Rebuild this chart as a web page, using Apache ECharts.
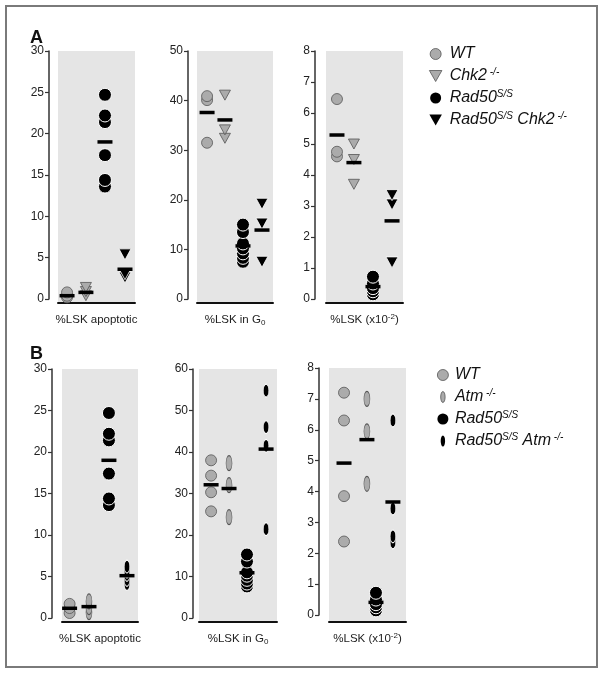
<!DOCTYPE html>
<html><head><meta charset="utf-8">
<script src="https://cdn.jsdelivr.net/npm/echarts@6/dist/echarts.min.js"></script>
<style>html,body{margin:0;padding:0;background:#fff}#c{width:604px;height:674px}</style>
</head><body><div id="c"></div>
<script>
// ---------------- data ----------------
const groupsA = ['WT', 'Chk2', 'Rad50', 'Rad50Chk2'];
const groupsB = ['WT', 'Atm', 'Rad50', 'Rad50Atm'];
const measureNames = ['%LSK apoptotic', '%LSK in G0', '%LSK (x10-2)'];
const yMax = [30, 50, 8, 30, 60, 8];
const yInterval = [5, 10, 1, 5, 10, 1];

// Panel A – %LSK apoptotic
const A_apop_WT = [0.2, 0.4, 0.8];
const A_apop_Chk2 = [0.4, 0.9, 1.4];
const A_apop_Rad50 = [13.6, 14.4, 17.4, 21.4, 22.2, 24.7];
const A_apop_Rad50Chk2 = [2.6, 3.0, 5.4];
const A_apop_mean = [0.4, 0.8, 19.0, 3.6];
// Panel A – %LSK in G0
const A_g0_WT = [31.5, 40.1, 40.9];
const A_g0_Chk2 = [32.4, 34.1, 41.1];
const A_g0_Rad50 = [7.5, 8.3, 9.2, 10.2, 11.2, 13.5, 15.0];
const A_g0_Rad50Chk2 = [7.5, 15.2, 19.2];
const A_g0_mean = [37.6, 36.1, 10.7, 13.9];
// Panel A – %LSK (x10^-2)
const A_lsk_WT = [4.6, 4.75, 6.45];
const A_lsk_Chk2 = [3.7, 4.5, 5.0];
const A_lsk_Rad50 = [0.15, 0.25, 0.35, 0.5, 0.72];
const A_lsk_Rad50Chk2 = [1.18, 3.05, 3.35];
const A_lsk_mean = [5.29, 4.4, 0.4, 2.52];

// Panel B – %LSK apoptotic
const B_apop_WT = [0.6, 1.2, 1.7];
const B_apop_Atm = [0.7, 1.3, 2.0];
const B_apop_Rad50 = [13.6, 14.4, 17.4, 21.4, 22.2, 24.7];
const B_apop_Rad50Atm = [4.1, 4.6, 5.2, 5.6, 6.2];
const B_apop_mean = [1.17, 1.37, 19.0, 5.1];
// Panel B – %LSK in G0
const B_g0_WT = [25.7, 30.3, 34.3, 38.0];
const B_g0_Atm = [24.3, 32.0, 37.3];
const B_g0_Rad50 = [7.6, 8.3, 9.2, 10.2, 11.0, 13.6, 15.3];
const B_g0_Rad50Atm = [21.4, 41.5, 46.0, 54.8];
const B_g0_mean = [32.1, 31.2, 10.9, 40.7];
// Panel B – %LSK (x10^-2)
const B_lsk_WT = [2.38, 3.85, 6.3, 7.2];
const B_lsk_Atm = [4.25, 5.95, 7.0];
const B_lsk_Rad50 = [0.15, 0.25, 0.35, 0.5, 0.72];
const B_lsk_Rad50Atm = [2.35, 2.55, 3.45, 6.3];
const B_lsk_mean = [4.92, 5.68, 0.41, 3.66];

// ---------------- layout & styles ----------------
const panels = [
  {groups: groupsA, vals: [A_apop_WT, A_apop_Chk2, A_apop_Rad50, A_apop_Rad50Chk2], mean: A_apop_mean, m: 0},
  {groups: groupsA, vals: [A_g0_WT, A_g0_Chk2, A_g0_Rad50, A_g0_Rad50Chk2], mean: A_g0_mean, m: 1},
  {groups: groupsA, vals: [A_lsk_WT, A_lsk_Chk2, A_lsk_Rad50, A_lsk_Rad50Chk2], mean: A_lsk_mean, m: 2},
  {groups: groupsB, vals: [B_apop_WT, B_apop_Atm, B_apop_Rad50, B_apop_Rad50Atm], mean: B_apop_mean, m: 0},
  {groups: groupsB, vals: [B_g0_WT, B_g0_Atm, B_g0_Rad50, B_g0_Rad50Atm], mean: B_g0_mean, m: 1},
  {groups: groupsB, vals: [B_lsk_WT, B_lsk_Atm, B_lsk_Rad50, B_lsk_Rad50Atm], mean: B_lsk_mean, m: 2}
];
const layout = [
  {axisX: 49, left: 58, width: 77, top: 51, h: 248, bgH: 252, xs: [0.47, 1.45, 2.44, 3.48]},
  {axisX: 188, left: 197, width: 76, top: 51, h: 248, bgH: 252, xs: [0.53, 1.47, 2.42, 3.42]},
  {axisX: 315, left: 326, width: 77, top: 51, h: 248, bgH: 252, xs: [0.57, 1.45, 2.44, 3.43]},
  {axisX: 52, left: 62, width: 76, top: 369, h: 249, bgH: 253, xs: [0.4, 1.42, 2.47, 3.42]},
  {axisX: 193, left: 199, width: 78, top: 369, h: 249, bgH: 253, xs: [0.62, 1.54, 2.46, 3.44]},
  {axisX: 319, left: 329, width: 77, top: 368, h: 247, bgH: 254, xs: [0.78, 1.97, 2.44, 3.32]}
];
const FONT = '"Liberation Sans", Arial, Helvetica, sans-serif';
const TRI = 'path://M0,0 L100,0 L50,88 Z';
const ELL = 'path://M20,0 A20,50 0 1,1 20,100 A20,50 0 1,1 20,0 Z';
const GREY = '#ababab';
const styles = {
  WT: {symbol: 'circle', size: 11, color: GREY, border: '#555', bw: 0.8},
  Chk2: {symbol: TRI, size: [11, 10], color: GREY, border: '#555', bw: 0.8},
  Rad50: {symbol: 'circle', size: 13, color: '#000', border: '#fff', bw: 1},
  Rad50Chk2: {symbol: TRI, size: [12, 11], color: '#000', border: '#fff', bw: 0.8},
  Atm: {symbol: ELL, size: [6, 15], color: GREY, border: '#555', bw: 0.8},
  Rad50Atm: {symbol: ELL, size: [5.5, 13], color: '#000', border: '#fff', bw: 0.8}
};

const nameRich = {
  t: {fontSize: 11.5, fontFamily: FONT, color: '#222', lineHeight: 14},
  sub: {fontSize: 8, fontFamily: FONT, color: '#222', lineHeight: 8, verticalAlign: 'bottom'},
  sup: {fontSize: 8, fontFamily: FONT, color: '#222', lineHeight: 8, verticalAlign: 'top'}
};
const nameFmt = [
  '{t|%LSK apoptotic}',
  '{t|%LSK in G}{sub|0}',
  '{t|%LSK (x10}{sup|-2}{t|)}'
];

const grid = [], xAxis = [], yAxis = [], series = [];
panels.forEach((p, i) => {
  const L = layout[i];
  const gBg = 2 * i, gD = 2 * i + 1;
  grid.push({left: L.left, top: L.top, width: L.width, height: L.bgH, show: true,
    backgroundColor: '#e5e5e5', borderWidth: 0});
  grid.push({left: L.left, top: L.top, width: L.width, height: L.h, show: false});
  xAxis.push({gridIndex: gBg, type: 'value', min: 0, max: 1,
    axisLine: {show: true, onZero: false, lineStyle: {color: '#111', width: 2}},
    axisTick: {show: false}, axisLabel: {show: false}, splitLine: {show: false},
    name: nameFmt[p.m], nameLocation: 'middle', nameGap: 10,
    nameTextStyle: {rich: nameRich}});
  yAxis.push({gridIndex: gBg, type: 'value', min: 0, max: 1, show: false});
  xAxis.push({gridIndex: gD, type: 'value', min: 0, max: 4, show: false});
  yAxis.push({gridIndex: gD, type: 'value', min: 0, max: yMax[i], interval: yInterval[i],
    offset: L.left - L.axisX,
    axisLine: {show: true, onZero: false, lineStyle: {color: '#333', width: 1.5}},
    axisTick: {show: true, length: 4, lineStyle: {color: '#333', width: 1.2}},
    axisLabel: {fontSize: 12, fontFamily: FONT, color: '#222', margin: 5},
    splitLine: {show: false}});
  p.groups.forEach((g, k) => {
    const s = styles[g];
    series.push({type: 'scatter', name: g, xAxisIndex: gD, yAxisIndex: gD, silent: true, z: 2,
      symbol: s.symbol, symbolSize: s.size,
      itemStyle: {color: s.color, borderColor: s.border, borderWidth: s.bw, opacity: 1},
      data: p.vals[k].map(v => [L.xs[k], v])});
  });
  series.push({type: 'scatter', name: 'mean', xAxisIndex: gD, yAxisIndex: gD, silent: true, z: 3,
    symbol: 'rect', symbolSize: [15, 3.5], itemStyle: {color: '#000', opacity: 1},
    data: p.mean.map((v, k) => [L.xs[k], v])});
});

const legRich = {
  i: {fontSize: 16, fontStyle: 'italic', fontFamily: FONT, color: '#111', lineHeight: 18},
  sup: {fontSize: 10, fontStyle: 'italic', fontFamily: FONT, color: '#111', lineHeight: 10, verticalAlign: 'top'}
};
const legLabel = {
  WT: '{i|WT}',
  Chk2: '{i|Chk2}{sup| -/-}',
  Rad50: '{i|Rad50}{sup|S/S}',
  Rad50Chk2: '{i|Rad50}{sup|S/S}{i| Chk2}{sup| -/-}',
  Atm: '{i|Atm}{sup| -/-}',
  Rad50Atm: '{i|Rad50}{sup|S/S}{i| Atm}{sup| -/-}'
};
function legendItems(groups) {
  return groups.map(g => {
    const s = styles[g];
    return {name: g, icon: s.symbol,
      itemStyle: {color: s.color, borderColor: s.color === '#000' ? '#000' : '#555', borderWidth: s.color === '#000' ? 0 : 0.8, opacity: 1}};
  });
}
const legend = [
  {orient: 'vertical', left: 424, top: 41, itemWidth: 18, itemHeight: 11, itemGap: 5,
    selectedMode: false, data: legendItems(groupsA), formatter: n => legLabel[n],
    textStyle: {rich: legRich}},
  {orient: 'vertical', left: 432, top: 362, itemWidth: 14, itemHeight: 11, itemGap: 5,
    selectedMode: false, data: legendItems(groupsB), formatter: n => legLabel[n],
    textStyle: {rich: legRich}}
];

const chart = echarts.init(document.getElementById('c'), null, {renderer: 'canvas'});
chart.setOption({
  animation: false,
  backgroundColor: '#fff',
  title: [
    {text: 'A', left: 30, top: 29, padding: 0, textStyle: {fontSize: 18, fontWeight: 'bold', fontFamily: FONT, color: '#111'}},
    {text: 'B', left: 30, top: 345, padding: 0, textStyle: {fontSize: 18, fontWeight: 'bold', fontFamily: FONT, color: '#111'}}
  ],
  graphic: [{type: 'rect', shape: {x: 6, y: 6, width: 591, height: 661},
    style: {fill: 'none', stroke: '#7a7a7a', lineWidth: 2}, silent: true}],
  legend, grid, xAxis, yAxis, series
});
</script></body></html>
